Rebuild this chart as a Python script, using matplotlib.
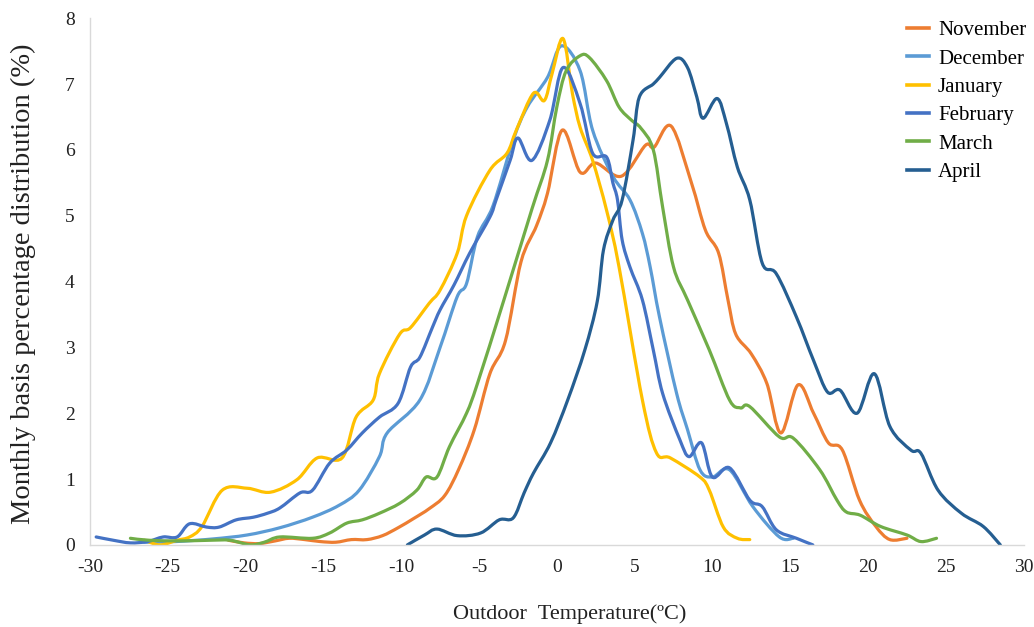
import numpy as np
import matplotlib
matplotlib.use('Agg')
import matplotlib.pyplot as plt
from matplotlib.path import Path
from matplotlib.patches import PathPatch
from matplotlib.lines import Line2D

plt.rcParams['font.family'] = ['Liberation Serif', 'DejaVu Serif']
plt.rcParams['axes.unicode_minus'] = False

# monthly distributions (temperature in C, share in %)
nov_t = [-21.1, -20.1, -19.1, -18.1, -17.2, -16.2, -15.2, -14.2, -13.2, -12.2, -11.2, -10.2, -9.2, -8.2,
         -7.2, -6.3, -5.3, -4.3, -3.3, -2.3, -1.3, -0.6, 0.35, 1.5, 2.5, 4.15, 5.7, 6.25, 7.35, 8.65,
         9.55, 10.4, 11.0, 11.5, 12.5, 13.5, 14.4, 15.5, 16.5, 17.45, 18.35, 19.45, 20.5, 21.4, 22.5]
nov_p = [0.07, 0.03, 0.02, 0.06, 0.10, 0.08, 0.05, 0.04, 0.08, 0.08, 0.14, 0.26, 0.40, 0.55,
         0.75, 1.15, 1.75, 2.6, 3.1, 4.3, 4.85, 5.34, 6.3, 5.66, 5.8, 5.6, 6.07, 6.04, 6.36, 5.5,
         4.78, 4.43, 3.72, 3.2, 2.9, 2.45, 1.7, 2.43, 2.0, 1.55, 1.44, 0.68, 0.28, 0.08, 0.1]

dec_t = [-26.5, -24.5, -22.1, -19.9, -17.8, -15.7, -14.0, -12.7, -11.4, -10.9, -8.8, -7.5, -6.4, -5.8,
         -5.1, -4.1, -2.8, -1.9, -0.6, 0.3, 1.5, 2.3, 3.6, 4.7, 5.5, 6.0, 6.6, 7.7, 8.4, 9.2,
         10.0, 11.1, 12.6, 14.3, 15.2]
dec_p = [0.04, 0.05, 0.09, 0.15, 0.26, 0.42, 0.6, 0.83, 1.34, 1.7, 2.2, 3.0, 3.77, 3.97,
         4.68, 5.15, 6.15, 6.65, 7.1, 7.58, 7.2, 6.3, 5.6, 5.24, 4.73, 4.22, 3.46, 2.3, 1.75, 1.14,
         1.03, 1.14, 0.58, 0.12, 0.1]

jan_t = [-26.5, -25.5, -24.4, -23.6, -22.8, -21.5, -19.9, -18.4, -16.7, -15.4, -13.8, -12.9, -11.8, -11.4,
         -10.1, -9.4, -8.2, -7.5, -6.4, -5.8, -4.3, -3.2, -2.6, -1.5, -0.8, -0.3, 0.4, 1.0, 1.5, 2.3,
         3.2, 4.0, 5.5, 6.4, 7.3, 9.2, 9.8, 10.7, 11.6, 12.4]
jan_p = [0.07, 0.0, 0.07, 0.12, 0.28, 0.83, 0.86, 0.8, 0.99, 1.32, 1.32, 1.94, 2.2, 2.6,
         3.2, 3.3, 3.67, 3.87, 4.43, 5.0, 5.69, 5.95, 6.3, 6.86, 6.75, 7.16, 7.69, 6.86, 6.34, 5.84,
         5.08, 4.22, 2.2, 1.4, 1.32, 1.03, 0.83, 0.27, 0.1, 0.08]

feb_t = [-29.6, -28.5, -27.4, -26.3, -25.3, -24.4, -23.6, -22.5, -21.7, -20.6, -19.5, -18.6, -17.8, -16.5,
         -15.7, -14.6, -13.5, -12.5, -11.4, -10.2, -9.4, -8.8, -8.0, -7.5, -6.6, -5.6, -4.3, -3.9, -3.0,
         -2.5, -1.6, -0.45, 0.4, 1.5, 2.3, 3.2, 3.6, 3.9, 4.2, 4.7, 5.5, 6.2, 6.8, 7.9, 8.5, 9.3,
         10.0, 11.1, 12.4, 13.2, 14.1, 15.4, 16.45]
feb_p = [0.12, 0.07, 0.03, 0.05, 0.12, 0.12, 0.32, 0.27, 0.27, 0.38, 0.42, 0.48, 0.56, 0.79,
         0.83, 1.24, 1.44, 1.7, 1.94, 2.15, 2.7, 2.85, 3.3, 3.57, 3.95, 4.43, 4.98, 5.24, 5.84,
         6.18, 5.84, 6.45, 7.25, 6.7, 5.95, 5.89, 5.5, 5.24, 4.63, 4.22, 3.72, 2.96, 2.3, 1.6, 1.34, 1.55,
         1.03, 1.17, 0.68, 0.58, 0.23, 0.1, 0.0]

mar_t = [-27.4, -26.2, -24.2, -22.3, -21.0, -19.7, -18.8, -17.8, -15.7, -14.6, -13.5, -12.5, -11.4, -10.1,
         -9.0, -8.4, -7.7, -6.9, -5.8, -5.1, -3.4, -1.6, -0.6, 0.0, 0.6, 1.5, 2.1, 3.2, 4.0, 4.8,
         5.4, 6.2, 6.8, 7.5, 8.4, 9.8, 11.1, 11.8, 12.4, 14.3, 15.2, 16.9, 18.0, 18.6, 19.5, 20.8,
         22.5, 23.4, 24.4]
mar_p = [0.1, 0.07, 0.06, 0.07, 0.07, 0.0, 0.04, 0.12, 0.1, 0.18, 0.33, 0.38, 0.48, 0.63,
         0.83, 1.03, 1.03, 1.49, 2.0, 2.45, 3.72, 5.1, 5.84, 6.65, 7.2, 7.43, 7.4, 7.05, 6.65, 6.45,
         6.33, 6.0, 5.13, 4.22, 3.72, 2.96, 2.2, 2.08, 2.1, 1.64, 1.62, 1.14, 0.68, 0.5, 0.45, 0.28,
         0.15, 0.05, 0.1]

apr_t = [-9.6, -8.5, -7.7, -6.4, -4.9, -3.7, -2.8, -2.1, -1.5, -0.4, 0.7, 1.8, 2.6, 3.0, 3.6, 4.2,
         4.9, 5.3, 6.2, 6.6, 7.7, 8.4, 9.0, 9.4, 10.3, 10.9, 11.6, 12.4, 13.2, 14.1, 15.4, 16.5,
         17.4, 18.2, 19.3, 20.4, 21.4, 22.75, 23.4, 24.5, 26.0, 27.4, 28.5]
apr_p = [0.0, 0.15, 0.24, 0.14, 0.18, 0.38, 0.41, 0.79, 1.09, 1.55, 2.2, 2.96, 3.7, 4.48, 4.93, 5.24,
         6.15, 6.8, 7.0, 7.1, 7.39, 7.25, 6.8, 6.48, 6.78, 6.4, 5.74, 5.24, 4.28, 4.12, 3.46, 2.8,
         2.32, 2.35, 2.0, 2.6, 1.8, 1.44, 1.39, 0.83, 0.48, 0.28, 0.0]

months = ['November', 'December', 'January', 'February', 'March', 'April']
temps = [nov_t, dec_t, jan_t, feb_t, mar_t, apr_t]
shares = [nov_p, dec_p, jan_p, feb_p, mar_p, apr_p]
colors = ['#ED7D31', '#5B9BD5', '#FFC000', '#4472C4', '#70AD47', '#255E91']


def smooth_path(xs, ys):
    # excel style smoothed line: cubic bezier through every data point
    pts = np.column_stack([xs, ys]).astype(float)
    verts = [pts[0]]
    codes = [Path.MOVETO]
    n = len(pts)
    for i in range(n - 1):
        p0 = pts[i - 1] if i > 0 else pts[i]
        p1 = pts[i]
        p2 = pts[i + 1]
        p3 = pts[i + 2] if i + 2 < n else pts[i + 1]
        verts += [p1 + (p2 - p0) / 6.0, p2 - (p3 - p1) / 6.0, p2]
        codes += [Path.CURVE4] * 3
    return Path(verts, codes)


fig = plt.figure(figsize=(10.34, 6.27), dpi=100)
ax = fig.add_axes([0.087, 0.131, 0.903, 0.840])

for t, p, c in zip(temps, shares, colors):
    ax.add_patch(PathPatch(smooth_path(t, p), facecolor='none', edgecolor=c, lw=2.3,
                           capstyle='round', joinstyle='round', transform=ax.transData))

ax.set_xlim(-30, 30)
ax.set_ylim(0, 8)
ax.set_xticks(np.arange(-30, 31, 5))
ax.set_yticks(np.arange(0, 9, 1))
ax.tick_params(length=0, labelsize=14, labelcolor='#222222')
ax.tick_params(axis='x', pad=10)
ax.tick_params(axis='y', pad=11)
for s in ['top', 'right']:
    ax.spines[s].set_visible(False)
for s in ['left', 'bottom']:
    ax.spines[s].set_color('#D9D9D9')
    ax.spines[s].set_linewidth(1.0)

ax.set_xlabel('Outdoor  Temperature(\u00baC)', fontsize=16, color='#222222')
ax.xaxis.set_label_coords(0.514, -0.113)
ax.set_ylabel('Monthly basis percentage distribution (%)', fontsize=20.5, color='#222222')
ax.yaxis.set_label_coords(-0.058, 0.495)

handles = [Line2D([], [], color=c, lw=2.6) for c in colors]
fig.legend(handles, months, loc='upper left', bbox_to_anchor=(0.877, 0.967), frameon=False,
           fontsize=15, handlelength=1.05, handletextpad=0.45, labelspacing=0.42,
           borderpad=0, borderaxespad=0)

fig.savefig('out.png', dpi=100, facecolor='white')
